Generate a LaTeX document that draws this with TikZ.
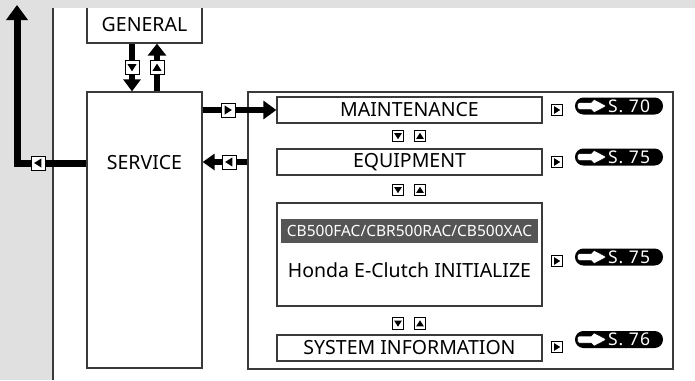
\documentclass[tikz,border=0pt]{standalone}
\usepackage{fontspec}
\setmainfont{Noto Sans}
\usetikzlibrary{arrows.meta}
\definecolor{bggray}{HTML}{E0E0E0}
\definecolor{edge}{HTML}{3A3A3A}
\definecolor{labelgray}{HTML}{555555}
\tikzset{
  frame/.style={draw=edge, line width=1.3pt, fill=white, inner sep=0pt},
  txt/.style={font=\fontsize{19.5}{20}\selectfont, inner sep=0pt},
  btn/.style={draw=black, line width=1pt, fill=white, rectangle, minimum size=#1pt, inner sep=0pt},
  triR/.style={path picture={\fill[black]
      ([xshift=#1*3.2pt]path picture bounding box.center) --
      ([xshift=-#1*2.8pt,yshift=#1*3.8pt]path picture bounding box.center) --
      ([xshift=-#1*2.8pt,yshift=-#1*3.8pt]path picture bounding box.center) -- cycle;}},
  triL/.style={path picture={\fill[black]
      ([xshift=-#1*3.2pt]path picture bounding box.center) --
      ([xshift=#1*2.8pt,yshift=#1*3.8pt]path picture bounding box.center) --
      ([xshift=#1*2.8pt,yshift=-#1*3.8pt]path picture bounding box.center) -- cycle;}},
  triU/.style={path picture={\fill[black]
      ([yshift=#1*3.2pt]path picture bounding box.center) --
      ([yshift=-#1*2.8pt,xshift=#1*3.8pt]path picture bounding box.center) --
      ([yshift=-#1*2.8pt,xshift=-#1*3.8pt]path picture bounding box.center) -- cycle;}},
  triD/.style={path picture={\fill[black]
      ([yshift=-#1*3.2pt]path picture bounding box.center) --
      ([yshift=#1*2.8pt,xshift=#1*3.8pt]path picture bounding box.center) --
      ([yshift=#1*2.8pt,xshift=-#1*3.8pt]path picture bounding box.center) -- cycle;}},
  pill/.style={fill=black, rounded corners=8.4pt, minimum width=88pt, minimum height=17pt, inner sep=0pt},
  pilltxt/.style={text=white, anchor=west, inner sep=0pt,
    font=\fontsize{17.5}{18}\selectfont\addfontfeature{LetterSpace=6}},
}
\newcommand{\pillarrow}[1]{%
  \filldraw[fill=white, draw=black, line width=0.5pt, rounded corners=1.8pt, shift={(#1.west)}]
    (2.5,-3.5) -- (18,-3.5) -- (18,-7.3) -- (32,0) -- (18,7.3) -- (18,3.5) -- (2.5,3.5) -- cycle;}
\begin{document}
\begin{tikzpicture}[x=1pt,y=-1pt]
\useasboundingbox (0,0) rectangle (695,380);
% backgrounds
\fill[bggray] (0,0) rectangle (695,380);
\fill[white] (53,7.5) rectangle (695,380);
% GENERAL box (top hidden under the grey strip)
\node[frame, minimum width=115pt, minimum height=54pt] (gen) at (144.5,16) {};
\fill[bggray] (53,0) rectangle (695,7.5);
\draw[edge, line width=1.3pt] (53,7.5) -- (53,380);
\node[txt] (gentxt) at (144.5,25) {GENERAL};
% SERVICE
\node[frame, minimum width=115pt, minimum height=276pt] (svc) at (144.5,230) {};
\node[txt] (svctxt) at (144.5,163) {SERVICE};
% right panel
\node[frame, minimum width=425pt, minimum height=277pt] (panel) at (460.5,230.5) {};
\node[frame, minimum width=265pt, minimum height=26pt] (maint) at (409.5,110) {};
\node[txt] (mainttxt) at (maint.center) {MAINTENANCE};
\node[frame, minimum width=265pt, minimum height=26pt] (equip) at (409.5,162) {};
\node[txt] (equiptxt) at (equip.center) {EQUIPMENT};
\node[frame, minimum width=265pt, minimum height=103pt] (big) at (409.5,254.5) {};
\node[fill=labelgray, minimum width=257pt, minimum height=24pt, inner sep=0pt] (model) at (409.5,231) {};
\node[text=white, inner sep=0pt, font=\fontsize{15.5}{16}\selectfont] (modeltxt) at (model.center) {CB500FAC/CBR500RAC/CB500XAC};
\node[txt] (hondatxt) at (409.5,270) {Honda E-Clutch INITIALIZE};
\node[frame, minimum width=265pt, minimum height=26pt] (sys) at (409.5,348) {};
\node[txt] (systxt) at (sys.center) {SYSTEM INFORMATION};
% up/down buttons between boxes
\node[btn=11.5, triD=1] (d1) at (398,136) {};
\node[btn=11.5, triU=1] (u1) at (420,136) {};
\node[btn=11.5, triD=1] (d2) at (398,190) {};
\node[btn=11.5, triU=1] (u2) at (420,190) {};
\node[btn=11.5, triD=1] (d3) at (398,323.5) {};
\node[btn=11.5, triU=1] (u3) at (420,323.5) {};
% right buttons and page references
\node[btn=11.5, triR=1] (r1) at (557,110) {};
\node[btn=11.5, triR=1] (r2) at (557,162) {};
\node[btn=11.5, triR=1] (r3) at (557,261) {};
\node[btn=11.5, triR=1] (r4) at (557,347) {};
\node[pill] (p1) at (619,106) {};
\node[pill] (p2) at (619,157) {};
\node[pill] (p3) at (619,257) {};
\node[pill] (p4) at (619,339.5) {};
\pillarrow{p1}\pillarrow{p2}\pillarrow{p3}\pillarrow{p4}
\node[pilltxt] (p1t) at ([xshift=33pt]p1.west) {S. 70};
\node[pilltxt] (p2t) at ([xshift=33pt]p2.west) {S. 75};
\node[pilltxt] (p3t) at ([xshift=33pt]p3.west) {S. 75};
\node[pilltxt] (p4t) at ([xshift=33pt]p4.west) {S. 76};
% connectors
\coordinate (lefttop) at (17,5);
\draw[line width=7pt, line join=miter, -{Triangle[length=15pt,width=21pt]}]
  (svc.west |- svctxt) -| (lefttop);
\node[btn=14, triL=1.2] (bl) at (38,163) {};
\draw[line width=6.5pt, -{Triangle[length=12pt,width=17pt]}] (gen.south -| 132,0) -- (svc.north -| 132,0);
\node[btn=14, triD=1.2] (bd) at (132,67.5) {};
\draw[line width=6.5pt, -{Triangle[length=12pt,width=18pt]}] (svc.north -| 157,0) -- (gen.south -| 157,0);
\node[btn=14, triU=1.2] (bu) at (157,67.5) {};
\draw[line width=6.5pt, -{Triangle[length=13pt,width=18pt]}] (svc.east |- maint) -- (maint.west);
\node[btn=14, triR=1.2] (bm) at (228,110) {};
\draw[line width=6.5pt, -{Triangle[length=12pt,width=16pt]}] (panel.west |- equip) -- (svc.east |- equip);
\node[btn=14, triL=1.2] (be) at (229,162) {};
\end{tikzpicture}
\end{document}
